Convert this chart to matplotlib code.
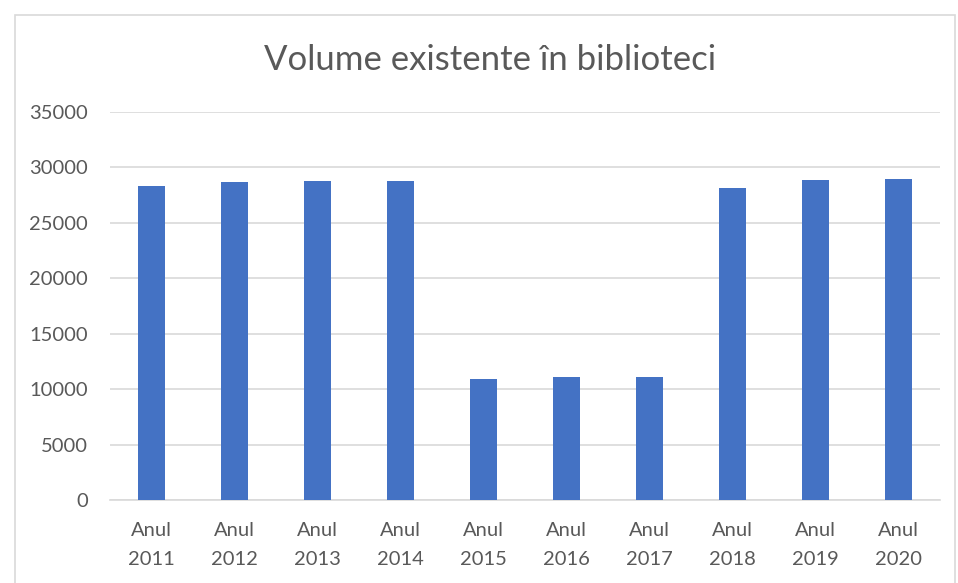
import matplotlib.pyplot as plt
from matplotlib.patches import Rectangle

# data
years = ["2011", "2012", "2013", "2014", "2015", "2016", "2017", "2018", "2019", "2020"]
volumes = [28280, 28650, 28740, 28800, 10940, 11060, 11080, 28100, 28890, 28980]
labels = [f"Anul\n{y}" for y in years]

plt.rcParams['font.family'] = ['Lato', 'DejaVu Sans']

fig = plt.figure(figsize=(9.58, 5.83), dpi=100)
ax = fig.add_axes([110 / 958, 1 - 500 / 583, 830 / 958, 388 / 583])

# outer chart frame
fig.patches.append(Rectangle((15 / 958, -0.05), 940 / 958, 1 - 15 / 583 + 0.05,
                             transform=fig.transFigure, fill=False,
                             edgecolor='#d9d9d9', linewidth=1.2))

x = range(len(years))
ax.bar(x, volumes, width=0.32, color='#4472C4', zorder=3)

ax.set_xlim(-0.5, len(years) - 0.5)
ax.set_ylim(0, 35000)
ax.set_yticks(range(0, 35001, 5000))
ax.set_xticks(list(x))
ax.set_xticklabels(labels, fontsize=14.5, color='#595959', linespacing=1.85)
ax.tick_params(axis='y', labelsize=14.5, labelcolor='#595959', length=0, pad=16)
ax.tick_params(axis='x', length=0, pad=16)
ax.grid(axis='y', color='#d9d9d9', linewidth=1.2, zorder=0)

for side in ['top', 'right', 'left']:
    ax.spines[side].set_visible(False)
ax.spines['bottom'].set_color('#d9d9d9')
ax.spines['bottom'].set_linewidth(1.2)

fig.text(490 / 958, 1 - 60 / 583, "Volume existente în biblioteci",
         ha='center', va='center', fontsize=25, color='#595959')

fig.savefig("out.png", dpi=100)
